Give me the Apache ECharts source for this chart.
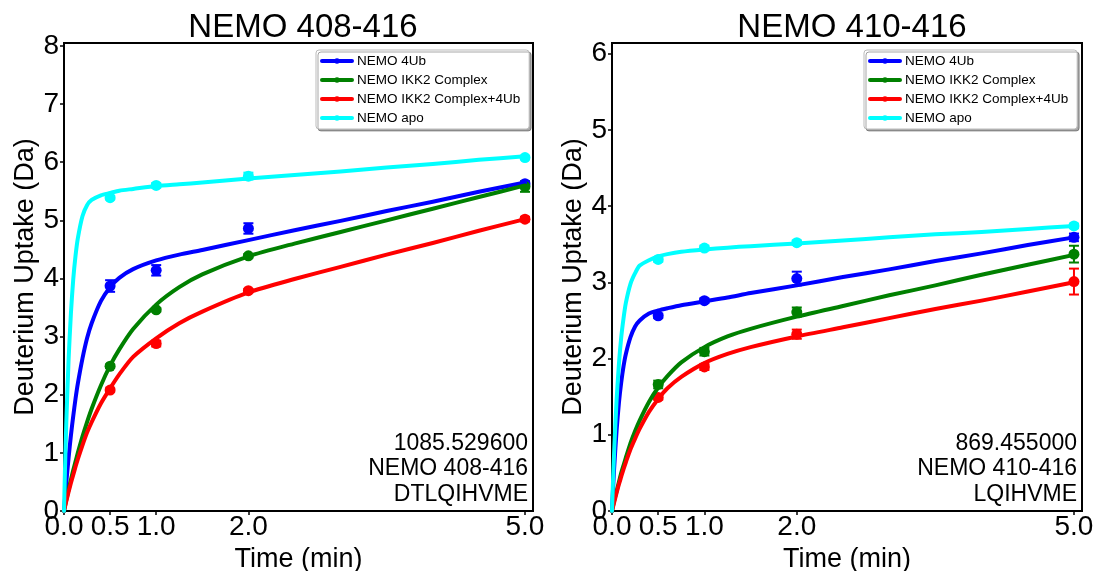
<!DOCTYPE html>
<html><head><meta charset="utf-8">
<script src="https://cdn.jsdelivr.net/npm/echarts@6/dist/echarts.min.js"></script>
<style>html,body{margin:0;padding:0;background:#fff}#c{width:1093px;height:571px}</style>
</head><body><div id="c"></div>
<script>
// ---------- DATA ----------
const seriesNames = ['NEMO 4Ub', 'NEMO IKK2 Complex', 'NEMO IKK2 Complex+4Ub', 'NEMO apo'];
const seriesColors = ['#0000ff', '#008000', '#ff0000', '#00ffff'];
const panelTitles = ['NEMO 408-416', 'NEMO 410-416'];
const panelNotesLeft = ['1085.529600', 'NEMO 408-416', 'DTLQIHVME'];
const panelNotesRight = ['869.455000', 'NEMO 410-416', 'LQIHVME'];
const xTickValues = [0, 0.5, 1, 2, 5];
const xTickLabels = ['0.0', '0.5', '1.0', '2.0', '5.0'];
const yTicksLeft = [0, 1, 2, 3, 4, 5, 6, 7, 8];
const yTicksRight = [0, 1, 2, 3, 4, 5, 6];
const xAxisName = 'Time (min)';
const yAxisName = 'Deuterium Uptake (Da)';

// measured time points (min)
const times = [0.5, 1.0, 2.0, 5.0];
// left panel (NEMO 408-416) measured uptake and error
const left4Ub = [3.87, 4.14, 4.86, 5.63];
const left4UbErr = [0.10, 0.09, 0.09, 0.04];
const leftIKK = [2.49, 3.46, 4.39, 5.58];
const leftIKKErr = [0.03, 0.03, 0.03, 0.09];
const leftIKK4Ub = [2.08, 2.88, 3.79, 5.02];
const leftIKK4UbErr = [0.03, 0.05, 0.03, 0.04];
const leftApo = [5.39, 5.60, 5.76, 6.08];
const leftApoErr = [0.03, 0.04, 0.06, 0.03];
// right panel (NEMO 410-416)
const right4Ub = [2.56, 2.76, 3.05, 3.59];
const right4UbErr = [0.03, 0.03, 0.09, 0.05];
const rightIKK = [1.66, 2.09, 2.61, 3.37];
const rightIKKErr = [0.05, 0.05, 0.06, 0.11];
const rightIKK4Ub = [1.49, 1.89, 2.32, 3.01];
const rightIKK4UbErr = [0.03, 0.04, 0.06, 0.17];
const rightApo = [3.30, 3.45, 3.52, 3.74];
const rightApoErr = [0.03, 0.03, 0.03, 0.03];

// fitted curves at these times
const fitTimes = [0, 0.01, 0.025, 0.05, 0.075, 0.1, 0.125, 0.15, 0.2, 0.25, 0.3, 0.4, 0.5, 0.6, 0.75, 1.0, 1.25, 1.5, 2.0, 2.5, 3.0, 3.5, 4.0, 4.5, 5.0];
const leftFit4Ub    = [0, 0.20, 0.49, 0.92, 1.30, 1.63, 1.93, 2.19, 2.62, 2.97, 3.23, 3.61, 3.85, 4.01, 4.16, 4.31, 4.41, 4.49, 4.66, 4.83, 4.99, 5.16, 5.32, 5.49, 5.65];
const leftFitIKK    = [0, 0.08, 0.19, 0.37, 0.54, 0.70, 0.85, 1.00, 1.28, 1.53, 1.76, 2.16, 2.50, 2.78, 3.13, 3.55, 3.85, 4.07, 4.38, 4.60, 4.80, 5.00, 5.20, 5.40, 5.60];
const leftFitIKK4Ub = [0, 0.07, 0.17, 0.33, 0.48, 0.62, 0.76, 0.89, 1.13, 1.35, 1.53, 1.85, 2.11, 2.35, 2.65, 2.97, 3.23, 3.43, 3.76, 3.99, 4.20, 4.41, 4.61, 4.82, 5.02];
const leftFitApo    = [0, 0.67, 1.52, 2.61, 3.40, 3.98, 4.39, 4.69, 5.07, 5.26, 5.35, 5.43, 5.47, 5.51, 5.54, 5.59, 5.62, 5.65, 5.72, 5.78, 5.84, 5.91, 5.97, 6.04, 6.10];
const rightFit4Ub    = [0, 0.26, 0.60, 1.06, 1.42, 1.69, 1.90, 2.06, 2.28, 2.42, 2.50, 2.59, 2.63, 2.66, 2.70, 2.75, 2.80, 2.86, 2.96, 3.07, 3.17, 3.28, 3.38, 3.49, 3.59];
const rightFitIKK    = [0, 0.06, 0.14, 0.26, 0.38, 0.50, 0.60, 0.70, 0.89, 1.05, 1.19, 1.43, 1.62, 1.77, 1.95, 2.15, 2.29, 2.39, 2.55, 2.69, 2.83, 2.96, 3.10, 3.23, 3.36];
const rightFitIKK4Ub = [0, 0.05, 0.12, 0.24, 0.35, 0.45, 0.55, 0.64, 0.81, 0.95, 1.08, 1.30, 1.47, 1.61, 1.76, 1.94, 2.06, 2.15, 2.29, 2.41, 2.53, 2.65, 2.76, 2.88, 3.00];
const rightFitApo    = [0, 0.36, 0.83, 1.46, 1.93, 2.28, 2.53, 2.73, 2.98, 3.12, 3.22, 3.29, 3.34, 3.37, 3.40, 3.43, 3.455, 3.475, 3.51, 3.55, 3.59, 3.63, 3.66, 3.70, 3.74];

// ---------- BUILD ----------
const panels = [
  { pts: [left4Ub, leftIKK, leftIKK4Ub, leftApo], errs: [left4UbErr, leftIKKErr, leftIKK4UbErr, leftApoErr],
    fits: [leftFit4Ub, leftFitIKK, leftFitIKK4Ub, leftFitApo], yTicks: yTicksLeft, notes: panelNotesLeft },
  { pts: [right4Ub, rightIKK, rightIKK4Ub, rightApo], errs: [right4UbErr, rightIKKErr, rightIKK4UbErr, rightApoErr],
    fits: [rightFit4Ub, rightFitIKK, rightFitIKK4Ub, rightFitApo], yTicks: yTicksRight, notes: panelNotesRight }
];
const layout = [
  { left: 64, top: 43, width: 469, height: 468, xMax: 5.087, yMax: 8.05, legendLeft: 316, noteRight: 528, titleX: 298 },
  { left: 612, top: 43, width: 470, height: 468, xMax: 5.087, yMax: 6.14, legendLeft: 864, noteRight: 1077, titleX: 847 }
];
const FONT = 'Liberation Sans, Arial, sans-serif';

const grids = [], xAxes = [], yAxes = [], series = [], legends = [], titles = [], graphics = [];
panels.forEach((p, pi) => {
  const L = layout[pi];
  grids.push({ left: L.left, top: L.top, width: L.width, height: L.height, show: true,
    outerBoundsMode: 'none', containLabel: false,
    borderColor: '#000', borderWidth: 2, backgroundColor: '#fff' });
  xAxes.push({ type: 'value', gridIndex: pi, min: 0, max: L.xMax,
    name: xAxisName, nameLocation: 'middle', nameGap: 30,
    nameTextStyle: { fontFamily: FONT, fontSize: 27, color: '#000' },
    axisLine: { show: true, onZero: false, lineStyle: { color: '#000', width: 2 } },
    axisTick: { show: true, length: 4, customValues: xTickValues, lineStyle: { color: '#000', width: 1.5 } },
    axisLabel: { customValues: xTickValues, margin: 2, fontFamily: FONT, fontSize: 28, color: '#000',
      formatter: v => { const k = xTickValues.indexOf(v); return k >= 0 ? xTickLabels[k] : ''; } },
    splitLine: { show: false } });
  yAxes.push({ type: 'value', gridIndex: pi, min: 0, max: L.yMax,
    name: yAxisName, nameLocation: 'middle', nameGap: 24,
    nameTextStyle: { fontFamily: FONT, fontSize: 27, color: '#000' },
    axisLine: { show: true, onZero: false, lineStyle: { color: '#000', width: 2 } },
    axisTick: { show: true, length: 4, customValues: p.yTicks, lineStyle: { color: '#000', width: 1.5 } },
    axisLabel: { customValues: p.yTicks, margin: 5, fontFamily: FONT, fontSize: 28, color: '#000' },
    splitLine: { show: false } });

  seriesNames.forEach((name, si) => {
    const col = seriesColors[si];
    // error bars
    series.push({ type: 'custom', name: name + ' err', xAxisIndex: pi, yAxisIndex: pi, z: 3,
      data: times.map((t, i) => [t, p.pts[si][i], p.errs[si][i]]),
      renderItem: (params, api) => {
        const t = api.value(0), v = api.value(1), e = api.value(2);
        const top = api.coord([t, v + e]), bot = api.coord([t, v - e]);
        const cap = 5;
        return { type: 'group', children: [
          { type: 'line', shape: { x1: top[0], y1: top[1], x2: bot[0], y2: bot[1] }, style: { stroke: col, lineWidth: 2 } },
          { type: 'line', shape: { x1: top[0] - cap, y1: top[1], x2: top[0] + cap, y2: top[1] }, style: { stroke: col, lineWidth: 2 } },
          { type: 'line', shape: { x1: bot[0] - cap, y1: bot[1], x2: bot[0] + cap, y2: bot[1] }, style: { stroke: col, lineWidth: 2 } }
        ] };
      } });
    // points
    series.push({ type: 'scatter', name: name + ' pts', xAxisIndex: pi, yAxisIndex: pi, z: 4,
      symbol: 'circle', symbolSize: 11, itemStyle: { color: col, opacity: 1 },
      data: times.map((t, i) => [t, p.pts[si][i]]) });
    // fitted curve
    series.push({ type: 'line', name: name, xAxisIndex: pi, yAxisIndex: pi, z: 5,
      smooth: 0.25, showSymbol: false, symbol: 'circle', symbolSize: 6,
      lineStyle: { color: col, width: 4, join: 'round', cap: 'round' }, itemStyle: { color: col },
      data: fitTimes.map((t, i) => [t, p.fits[si][i]]) });
  });

  legends.push({ data: seriesNames, left: L.legendLeft, top: 50, orient: 'vertical',
    itemWidth: 30, itemHeight: 7, itemGap: 5, padding: [4, 9, 4, 4],
    backgroundColor: '#fff', borderColor: '#bbb', borderWidth: 1, borderRadius: 3,
    shadowColor: 'rgba(0,0,0,0.35)', shadowBlur: 0, shadowOffsetX: 2, shadowOffsetY: 2,
    lineStyle: { width: 4 },
    textStyle: { fontFamily: FONT, fontSize: 13.5, color: '#000' }, selectedMode: false });

  titles.push({ text: panelTitles[pi], left: L.titleX, top: 6, textAlign: 'center',
    textStyle: { fontFamily: FONT, fontSize: 33, fontWeight: 'normal', color: '#000' } });

  p.notes.forEach((txt, li) => {
    graphics.push({ type: 'text', right: 1093 - L.noteRight, top: 432 + li * 25.5, z: 10,
      style: { text: txt, font: '23px ' + FONT, fill: '#000', textAlign: 'right' } });
  });
});

const chart = echarts.init(document.getElementById('c'), null, { renderer: 'canvas' });
chart.setOption({
  animation: false,
  backgroundColor: '#fff',
  title: titles,
  legend: legends,
  grid: grids,
  xAxis: xAxes,
  yAxis: yAxes,
  series: series,
  graphic: graphics
});
</script></body></html>
